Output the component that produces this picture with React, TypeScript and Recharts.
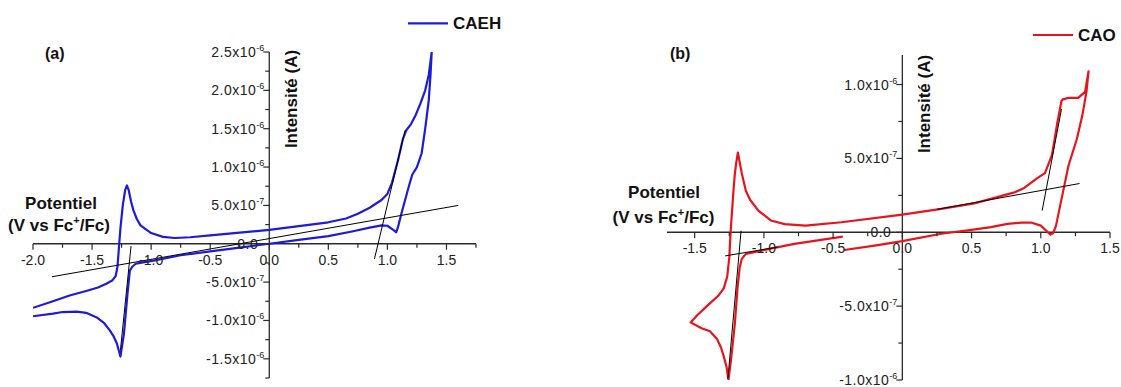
import React from "react";
import { LineChart, Line, XAxis, YAxis, ReferenceLine, ReferenceDot, Legend } from "recharts";

const FONT = '"Liberation Sans", Arial, sans-serif';
const AXIS = "#2a2a2a";
const INK = "#111";

// (a) CAEH, scan order. potential in V vs Fc+/Fc, current in 10^-6 A
const caehPotential = [
  -2.0, -1.85, -1.69, -1.55, -1.45, -1.38, -1.33, -1.3, -1.285, -1.275, -1.26, -1.24, -1.22, -1.205,
  -1.19, -1.17, -1.15, -1.12, -1.09, -1.0, -0.9, -0.8, -0.67, -0.5, -0.25, 0.0, 0.25, 0.5, 0.65, 0.75,
  0.85, 0.95, 1.0, 1.04, 1.09, 1.13, 1.16, 1.2, 1.24, 1.28, 1.32, 1.35, 1.375,
  1.365, 1.35, 1.32, 1.29, 1.25, 1.21, 1.18, 1.15, 1.12, 1.09, 1.075, 1.05, 1.0, 0.95, 0.85, 0.7, 0.5,
  0.25, 0.0, -0.25, -0.5, -0.75, -0.98, -1.08, -1.13, -1.16, -1.18, -1.2, -1.23, -1.26, -1.29, -1.32,
  -1.35, -1.4, -1.46, -1.55, -1.63, -1.75, -1.83, -2.0,
];
const caehCurrent = [
  -0.835, -0.76, -0.675, -0.615, -0.57, -0.52, -0.48, -0.42, -0.3, -0.1, 0.2, 0.5, 0.7, 0.76,
  0.7, 0.55, 0.435, 0.32, 0.24, 0.14, 0.09, 0.075, 0.085, 0.11, 0.145, 0.18, 0.23, 0.28, 0.33, 0.39,
  0.47, 0.57, 0.65, 0.8, 1.09, 1.36, 1.48, 1.56, 1.68, 1.83, 2.0, 2.2, 2.5,
  2.2, 1.87, 1.5, 1.18, 1.0, 0.9, 0.74, 0.57, 0.4, 0.22, 0.15, 0.18, 0.235, 0.24, 0.21, 0.16, 0.1,
  0.05, 0.0, -0.05, -0.1, -0.15, -0.22, -0.245, -0.26, -0.3, -0.35, -0.65, -1.17, -1.47, -1.3, -1.2,
  -1.13, -1.03, -0.96, -0.9, -0.885, -0.89, -0.91, -0.945,
];

// (b) CAO, scan order
const caoPotential = [
  -0.42, -0.2, 0.0, 0.28, 0.5, 0.64, 0.76, 0.86, 0.93, 1.0, 1.04, 1.07, 1.09, 1.11, 1.15, 1.2, 1.26,
  1.3, 1.33, 1.345,
  1.32, 1.27, 1.2, 1.16, 1.15, 1.12, 1.1, 1.08, 1.03, 0.98, 0.88, 0.81, 0.52, 0.28, 0.0, -0.44, -0.7,
  -0.85, -0.95, -1.04, -1.1, -1.13, -1.16, -1.188, -1.2, -1.21, -1.22, -1.24, -1.25, -1.265, -1.29,
  -1.33, -1.4, -1.48, -1.53, -1.45, -1.39, -1.34, -1.31, -1.29, -1.27, -1.256, -1.236, -1.21, -1.19,
  -1.175, -1.16, -1.13, -1.02, -0.78, -0.43,
];
const caoCurrent = [
  -0.12, -0.09, -0.06, -0.01, 0.016, 0.035, 0.057, 0.065, 0.066, 0.045, 0.01, -0.016, -0.005, 0.045,
  0.226, 0.45, 0.63, 0.79, 0.95, 1.09,
  0.95, 0.91, 0.91, 0.9, 0.89, 0.745, 0.63, 0.52, 0.4, 0.37, 0.3, 0.27, 0.196, 0.158, 0.12, 0.068,
  0.045, 0.055, 0.08, 0.147, 0.22, 0.28, 0.4, 0.54, 0.47, 0.395, 0.28, 0.01, -0.17, -0.3, -0.38,
  -0.43, -0.49, -0.56, -0.61, -0.65, -0.67, -0.72, -0.78, -0.84, -0.91, -1.0, -0.85, -0.62, -0.37,
  -0.24, -0.18, -0.146, -0.124, -0.079, -0.03,
];

// black construction lines [x1, y1, x2, y2]
const caehTangents = [
  [-1.84, -0.43, 1.6, 0.5],
  [-1.17, -0.03, -1.26, -1.39],
  [0.89, -0.2, 1.15, 1.48],
];
const caoTangents = [
  [0.25, 0.155, 1.28, 0.33],
  [1.01, 0.147, 1.15, 0.835],
  [-1.165, 0.01, -1.26, -0.99],
  [-1.28, -0.16, -0.9, -0.1],
];

// ticks
const aXMajor = [-2, -1.5, -1, -0.5, 0, 0.5, 1, 1.5];
const aXMinor = [-1.75, -1.25, -0.75, -0.25, 0.25, 0.75, 1.25, 1.75];
const aYMajor = [-1.5, -1, -0.5, 0, 0.5, 1, 1.5, 2, 2.5];
const aYMinor = [-1.75, -1.25, -0.75, -0.25, 0.25, 0.75, 1.25, 1.75, 2.25];
const bXMajor = [-1.5, -1, -0.5, 0, 0.5, 1, 1.5];
const bXMinor = [-1.25, -0.75, -0.25, 0.25, 0.75, 1.25];
const bYMajor = [-1, -0.5, 0, 0.5, 1];
const bYMinor = [-0.75, -0.25, 0.25, 0.75];

const caehData = caehPotential.map((v, k) => ({ v, i: caehCurrent[k] }));
const caoData = caoPotential.map((v, k) => ({ v, i: caoCurrent[k] }));

function sciParts(v: number): [string, string | null] {
  if (v === 0) return ["0.0", null];
  if (Math.abs(v) < 1) return [(v * 10).toFixed(1) + "x10", "-7"];
  return [v.toFixed(1) + "x10", "-6"];
}

function xTick(len: number, label?: string) {
  return (p: any) => (
    <g>
      <line x1={p.cx} y1={p.cy} x2={p.cx} y2={p.cy + len} stroke={AXIS} strokeWidth={1.2} />
      {label !== undefined && (
        <text x={p.cx} y={p.cy + 21} textAnchor="middle" fontSize={14} fontFamily={FONT} fill="#222">
          {label}
        </text>
      )}
    </g>
  );
}

function yTick(len: number, value?: number) {
  return (p: any) => {
    const parts = value === undefined ? null : sciParts(value);
    return (
      <g>
        <line x1={p.cx - len} y1={p.cy} x2={p.cx} y2={p.cy} stroke={AXIS} strokeWidth={1.2} />
        {parts && (
          <text
            x={p.cx - (parts[1] ? 5 : 11)}
            y={p.cy + 5}
            textAnchor="end"
            fontSize={14}
            letterSpacing={0.5}
            fontFamily={FONT}
            fill="#222"
          >
            {parts[0]}
            {parts[1] && (
              <tspan dy={-6} fontSize={9} letterSpacing={0}>
                {parts[1]}
              </tspan>
            )}
          </text>
        )}
      </g>
    );
  };
}

type PanelProps = {
  data: { v: number; i: number }[];
  name: string;
  color: string;
  width: number;
  margin: { top: number; right: number; bottom: number; left: number };
  xDomain: [number, number];
  yDomain: [number, number];
  xMajor: number[];
  xMinor: number[];
  yMajor: number[];
  yMinor: number[];
  segments: number[][];
  legendLeft: number;
  legendTop: number;
  legendLineY: number;
};

function Panel(props: PanelProps) {
  const { data, name, color, width, margin, xDomain, yDomain } = props;
  return (
    <LineChart width={width} height={387} data={data} margin={margin}>
      <XAxis type="number" dataKey="v" domain={xDomain} hide allowDataOverflow />
      <YAxis type="number" domain={yDomain} hide allowDataOverflow />
      <ReferenceLine y={0} stroke={AXIS} strokeWidth={1.3} />
      <ReferenceLine x={0} stroke={AXIS} strokeWidth={1.3} />
      {props.xMinor.map((t) => (
        <ReferenceDot key={"xn" + t} x={t} y={0} shape={xTick(4)} />
      ))}
      {props.xMajor.map((t) => (
        <ReferenceDot key={"xj" + t} x={t} y={0} shape={xTick(6, t.toFixed(1))} />
      ))}
      {props.yMinor.map((t) => (
        <ReferenceDot key={"yn" + t} x={0} y={t} shape={yTick(4)} />
      ))}
      {props.yMajor.map((t) => (
        <ReferenceDot key={"yj" + t} x={0} y={t} shape={yTick(6, t)} />
      ))}
      <Line
        type="linear"
        dataKey="i"
        name={name}
        stroke={color}
        strokeWidth={2.2}
        strokeLinejoin="round"
        dot={false}
        isAnimationActive={false}
      />
      {props.segments.map((s, k) => (
        <ReferenceLine
          key={"t" + k}
          segment={[
            { x: s[0], y: s[1] },
            { x: s[2], y: s[3] },
          ]}
          stroke="#000"
          strokeWidth={1}
        />
      ))}
      <Legend
        layout="vertical"
        align="center"
        verticalAlign="middle"
        wrapperStyle={{ left: props.legendLeft, top: props.legendTop, width: 120, height: 18 }}
        content={() => (
          <div style={{ position: "relative", width: 120, height: 18 }}>
            <svg width={40} height={18} style={{ position: "absolute", left: 0, top: 0 }}>
              <line x1={0} x2={40} y1={props.legendLineY} y2={props.legendLineY} stroke={color} strokeWidth={2.2} />
            </svg>
            <span
              style={{
                position: "absolute",
                left: 45,
                top: 0,
                fontSize: 17,
                lineHeight: 1,
                fontWeight: 700,
                fontFamily: FONT,
                color: INK,
              }}
            >
              {name}
            </span>
          </div>
        )}
      />
    </LineChart>
  );
}

function Txt({ x, baseline, size = 17, center = false, children }: any) {
  return (
    <div
      style={{
        position: "absolute",
        left: x,
        top: baseline - 0.8465 * size,
        fontSize: size,
        lineHeight: 1,
        fontWeight: 700,
        whiteSpace: "nowrap",
        color: INK,
        transform: center ? "translateX(-50%)" : undefined,
      }}
    >
      {children}
    </div>
  );
}

function Vertical({ cx, cy, children }: any) {
  return (
    <div
      style={{
        position: "absolute",
        left: cx,
        top: cy,
        fontSize: 17,
        lineHeight: 1,
        fontWeight: 700,
        whiteSpace: "nowrap",
        color: INK,
        transform: "translate(-50%, -50%) rotate(-90deg)",
      }}
    >
      {children}
    </div>
  );
}

const potentialUnit = (
  <>
    (V vs Fc<span style={{ fontSize: 11, position: "relative", top: -7 }}>+</span>/Fc)
  </>
);

export default function App() {
  return (
    <div
      style={{
        position: "absolute",
        left: 0,
        top: 0,
        width: 1121,
        height: 387,
        background: "#fff",
        fontFamily: FONT,
        overflow: "hidden",
      }}
    >
      <div style={{ position: "absolute", left: 0, top: 0 }}>
        <Panel
          data={caehData}
          name="CAEH"
          color="#1c1cd8"
          width={560}
          margin={{ top: 52, right: 84, bottom: 9, left: 33 }}
          xDomain={[-2, 1.75]}
          yDomain={[-1.75, 2.5]}
          xMajor={aXMajor}
          xMinor={aXMinor}
          yMajor={aYMajor}
          yMinor={aYMinor}
          segments={caehTangents}
          legendLeft={408}
          legendTop={15}
          legendLineY={8.3}
        />
      </div>
      <div style={{ position: "absolute", left: 560, top: 0 }}>
        <Panel
          data={caoData}
          name="CAO"
          color="#e8141c"
          width={561}
          margin={{ top: 55, right: 11, bottom: 7, left: 107 }}
          xDomain={[-1.7, 1.5]}
          yDomain={[-1.0, 1.2]}
          xMajor={bXMajor}
          xMinor={bXMinor}
          yMajor={bYMajor}
          yMinor={bYMinor}
          segments={caoTangents}
          legendLeft={473}
          legendTop={27}
          legendLineY={8}
        />
      </div>

      <Txt x={45} baseline={60} size={16}>(a)</Txt>
      <Txt x={670} baseline={60} size={16}>(b)</Txt>

      <Vertical cx={291} cy={99}>Intensité (A)</Vertical>
      <Vertical cx={923.5} cy={103.5}>Intensité (A)</Vertical>

      <Txt x={61} baseline={209.5} center>Potentiel</Txt>
      <Txt x={59} baseline={231} center>{potentialUnit}</Txt>
      <Txt x={664} baseline={198.3} center>Potentiel</Txt>
      <Txt x={663.5} baseline={223} center>{potentialUnit}</Txt>
    </div>
  );
}
